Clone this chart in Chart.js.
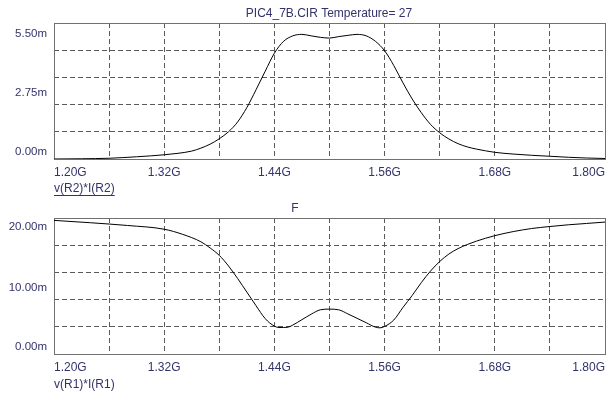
<!DOCTYPE html>
<html>
<head>
<meta charset="utf-8">
<script src="https://cdn.jsdelivr.net/npm/chart.js@4/dist/chart.umd.min.js"></script>
<style>
  html, body { margin: 0; padding: 0; background: #fff; }
  #wrap { position: relative; width: 611px; height: 398px; overflow: hidden; }
  canvas { position: absolute; left: 0; }
  #c1 { top: 0; }
  #c2 { top: 200px; }
</style>
</head>
<body>
<div id="wrap">
  <canvas id="c1" width="611" height="200"></canvas>
  <canvas id="c2" width="611" height="198"></canvas>
</div>
<script>
// sweep frequency (GHz) and power v*I (mW) for R2 (output) and R1 (input)
const freqR2 = [1.20, 1.23, 1.26, 1.29, 1.32, 1.335, 1.35, 1.36, 1.37, 1.38, 1.39, 1.40, 1.41, 1.42, 1.43, 1.44,
  1.45, 1.46, 1.47, 1.48, 1.49, 1.50, 1.51, 1.52, 1.53, 1.54, 1.55, 1.56, 1.57, 1.58, 1.59, 1.60, 1.61, 1.62,
  1.63, 1.64, 1.65, 1.66, 1.67, 1.68, 1.70, 1.72, 1.74, 1.76, 1.78, 1.80]
const powerR2 = [0.00, 0.01, 0.03, 0.09, 0.17, 0.23, 0.32, 0.44, 0.60, 0.82, 1.10, 1.50, 2.08, 2.80, 3.55, 4.28,
  4.76, 4.98, 5.04, 4.98, 4.92, 4.89, 4.95, 5.00, 5.04, 4.98, 4.76, 4.38, 3.78, 3.08, 2.43, 1.87, 1.40, 1.06,
  0.81, 0.62, 0.49, 0.40, 0.33, 0.27, 0.20, 0.15, 0.11, 0.07, 0.04, 0.02]

const freqR1 = [1.20, 1.24, 1.28, 1.32, 1.34, 1.36, 1.37, 1.38, 1.39, 1.40, 1.41, 1.42, 1.43, 1.44, 1.445, 1.45,
  1.455, 1.46, 1.47, 1.48, 1.49, 1.50, 1.51, 1.52, 1.53, 1.54, 1.55, 1.555, 1.56, 1.57, 1.58, 1.59, 1.60, 1.61,
  1.62, 1.63, 1.64, 1.65, 1.66, 1.68, 1.70, 1.72, 1.74, 1.76, 1.78, 1.80]
const powerR1 = [19.65, 19.30, 18.90, 18.35, 17.60, 16.50, 15.60, 14.50, 12.95, 11.10, 9.10, 7.10, 5.20, 4.10, 3.90, 3.90,
  3.95, 4.25, 5.05, 5.85, 6.50, 6.60, 6.50, 5.90, 5.25, 4.60, 3.95, 3.85, 4.05, 5.00, 6.85, 8.60, 10.50, 12.20,
  13.60, 14.70, 15.50, 16.10, 16.60, 17.40, 18.00, 18.45, 18.75, 19.00, 19.20, 19.40]

const freqLabels = [1.20, 1.32, 1.44, 1.56, 1.68, 1.80]
const yTicksR2 = [0, 2.75, 5.5]
const yLabelsR2 = ['0.00m', '2.75m', '5.50m']
const yTicksR1 = [0, 10, 20]
const yLabelsR1 = ['0.00m', '10.00m', '20.00m']

const INK = '#33336b'
const FAMILY = '"Liberation Sans", Arial, sans-serif'

// solid plot frame, value labels and captions in the simulator's style
const simPlot = {
  id: 'simPlot',
  beforeDatasetsDraw(chart) {
    const { ctx, chartArea: a } = chart
    ctx.save()
    ctx.strokeStyle = '#707070'
    ctx.lineWidth = 1
    ctx.strokeRect(Math.round(a.left) + 0.5, Math.round(a.top) + 0.5,
      Math.round(a.right - a.left), Math.round(a.bottom - a.top))
    ctx.restore()
  },
  afterDraw(chart, args, opts) {
    const { ctx, chartArea: a, scales } = chart
    ctx.save()
    ctx.fillStyle = INK
    ctx.textBaseline = 'middle'
    ctx.textAlign = 'right'
    ctx.font = '11.5px ' + FAMILY
    opts.yTicks.forEach((v, i) => {
      ctx.fillText(opts.yLabels[i], a.left - 7, scales.y.getPixelForValue(v) + opts.nudge[i])
    })
    ctx.font = '12px ' + FAMILY
    ctx.textAlign = 'left'
    ctx.fillText(opts.trace, a.left, opts.traceY)
    if (opts.underline) {
      const w = ctx.measureText(opts.trace).width
      ctx.fillRect(a.left, opts.traceY + 6, w, 1)
    }
    if (opts.title) {
      ctx.textAlign = 'center'
      ctx.fillText(opts.title, opts.titleX, opts.titleY)
    }
    ctx.restore()
  }
}

function makeChart(id, freq, power, cfg) {
  return new Chart(document.getElementById(id), {
    type: 'line',
    data: {
      datasets: [{
        data: freq.map((f, i) => ({ x: f, y: power[i] })),
        borderColor: '#000',
        borderWidth: 1,
        pointRadius: 0,
        cubicInterpolationMode: 'monotone'
      }]
    },
    options: {
      responsive: false,
      animation: false,
      layout: { padding: { top: cfg.top, right: 6, bottom: 0, left: 0 } },
      plugins: {
        legend: { display: false },
        tooltip: { enabled: false },
        simPlot: cfg.labels
      },
      scales: {
        x: {
          type: 'linear',
          min: 1.2,
          max: 1.8,
          afterFit: (s) => { s.height = cfg.axisH },
          grid: { color: '#5a5a5a', drawTicks: false },
          border: { display: false, dash: [5, 3] },
          ticks: {
            stepSize: 0.06,
            autoSkip: false,
            maxRotation: 0,
            align: 'inner',
            padding: 6,
            color: INK,
            font: { family: FAMILY, size: 12 },
            callback: (v) => freqLabels.some((f) => Math.abs(f - v) < 1e-6) ? v.toFixed(2) + 'G' : ''
          }
        },
        y: {
          min: 0,
          max: cfg.yMax,
          afterFit: (s) => { s.width = 54 },
          grid: { color: '#5a5a5a', drawTicks: false },
          border: { display: false, dash: [5, 3] },
          ticks: { display: false, stepSize: cfg.yMax / 5 }
        }
      }
    },
    plugins: [simPlot]
  })
}

makeChart('c1', freqR2, powerR2, {
  top: 23, axisH: 41, yMax: 5.5,
  labels: {
    yTicks: yTicksR2, yLabels: yLabelsR2, nudge: [-7, 2, 11],
    trace: 'v(R2)*I(R2)', traceY: 189, underline: true,
    title: 'PIC4_7B.CIR Temperature= 27', titleX: 329, titleY: 14
  }
})

makeChart('c2', freqR1, powerR1, {
  top: 18, axisH: 44, yMax: 20,
  labels: {
    yTicks: yTicksR1, yLabels: yLabelsR1, nudge: [-7.5, 2, 8.5],
    trace: 'v(R1)*I(R1)', traceY: 185, underline: false,
    title: 'F', titleX: 295, titleY: 9
  }
})
</script>
</body>
</html>
